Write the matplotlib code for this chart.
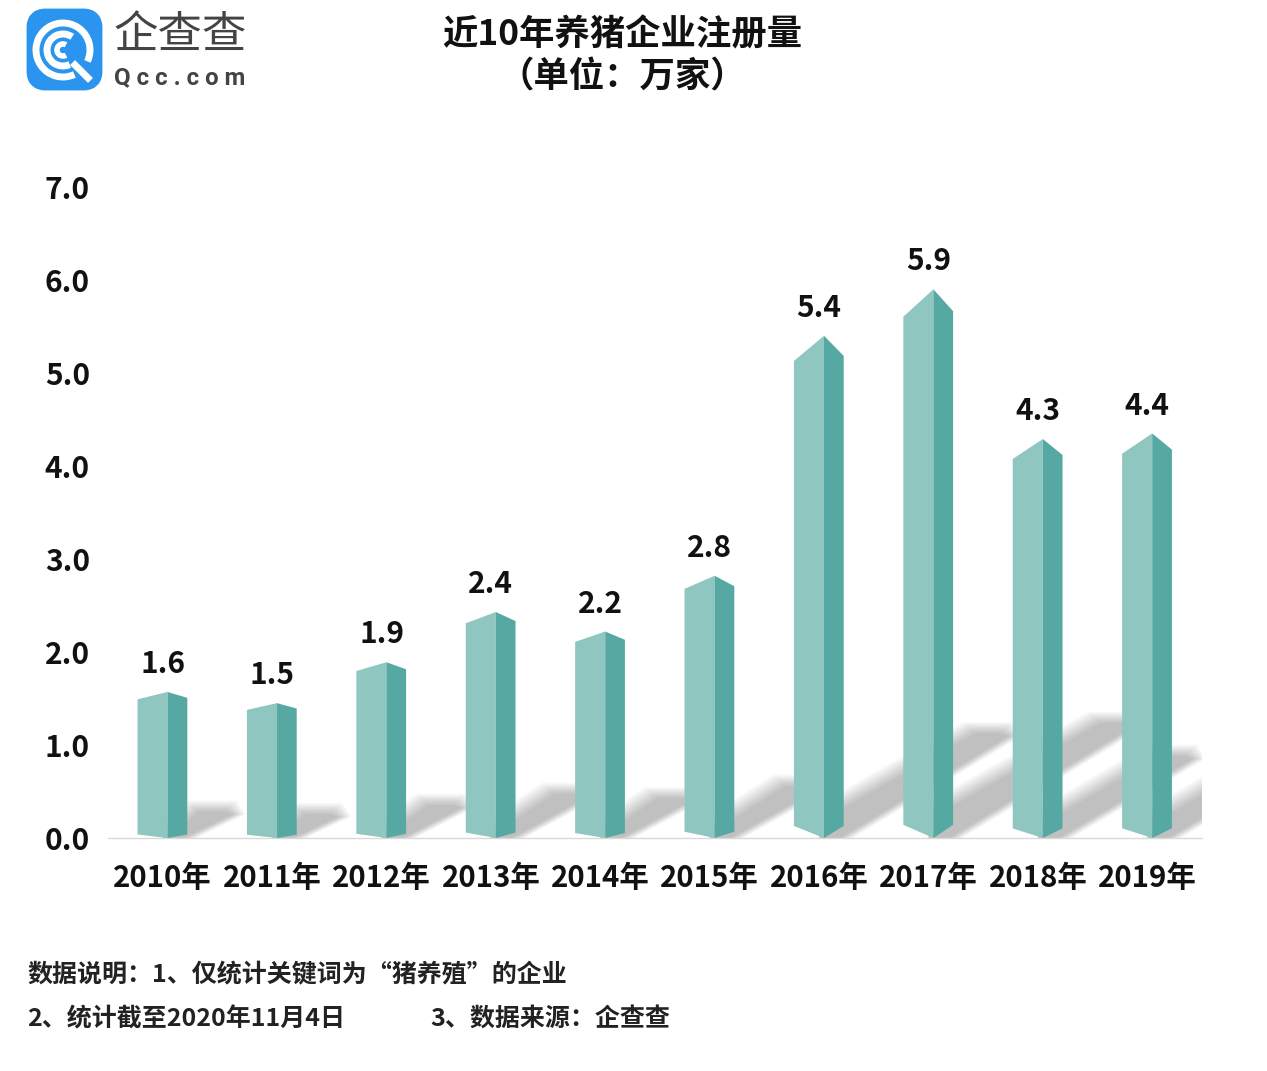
#Registered pig farming companies per year, drawn as faked 3D columns with a soft shadow behind each one.

import matplotlib.pyplot as plt
from matplotlib.patches import Arc, FancyBboxPatch

years = ['2010年','2011年','2012年','2013年','2014年','2015年','2016年','2017年','2018年','2019年']
counts = [1.6, 1.5, 1.9, 2.4, 2.2, 2.8, 5.4, 5.9, 4.3, 4.4]
#Drawn heights carry one more decimal than the printed labels
heights = [1.57, 1.45, 1.89, 2.43, 2.22, 2.82, 5.4, 5.9, 4.29, 4.35]
y_labels = ['0.0','1.0','2.0','3.0','4.0','5.0','6.0','7.0']
title_lines = ['近10年养猪企业注册量','（单位：万家）']
note_1 = '数据说明：1、仅统计关键词为“猪养殖”的企业'
note_2 = '2、统计截至2020年11月4日'
note_3 = '3、数据来源：企查查'

plt.rcParams['font.family'] = ['Noto Sans CJK SC', 'DejaVu Sans']
plt.rcParams['font.weight'] = 'bold'

plt.figure(figsize=(12.67,10.71), dpi=100)

#Main axes : 108-1202 px across, 187-838 px down
plt.axes([108/1267, 1-838/1071, 1094/1267, 651/1071])
plt.xlim(-0.5, 9.5)
plt.ylim(0, 7)

#Shadows first, stacked see-through polygons growing a little each time give the blurred edge
for i, v in enumerate(heights):
    rise = 0.22*v
    run = 0.286*v
    for k in range(-5, 6):
        d = 0.012*k    # offset of this layer, a bit over 1 px per step
        xs = [i-d, i, i+0.25+d, i+0.25+run+d, i+0.17+run+d, i+run-0.17-d]
        ys = [0.05*v+d, 0, 0, rise-0.09, rise+d, rise+d]
        plt.fill(xs, ys, color='black', alpha=0.022, linewidth=0, zorder=1)

#Front face in light teal, side face in dark teal
for i, v in enumerate(heights):
    plt.fill([i-0.23, i+0.045, i+0.045, i-0.23], [0.024*v, 0, v, 0.95*v], color='#8fc6c0', linewidth=0, zorder=3)
    plt.fill([i+0.045, i+0.225, i+0.225, i+0.045], [0, 0.024*v, 0.96*v, v], color='#56a9a2', linewidth=0, zorder=3)
    plt.text(i, v+0.30, str(counts[i]), ha='center', va='center', fontsize=21.5, color='#111111', zorder=4)

plt.xticks(range(10), years, fontsize=21.2, color='#111111')
plt.yticks(range(8), y_labels, fontsize=21.5, color='#111111', va='center_baseline')
plt.tick_params(axis='both', length=0)
plt.tick_params(axis='x', pad=18)
plt.tick_params(axis='y', pad=13)
ax = plt.gca()
for side in ['top','left','right']:
    ax.spines[side].set_visible(False)
ax.spines['bottom'].set_color('#d9d9d9')
ax.spines['bottom'].set_linewidth(1)
ax.spines['bottom'].set_zorder(2)

#Overlay in pixel coordinates for the titles, notes and logo
plt.axes([0,0,1,1], facecolor='none')
plt.xlim(0, 1267)
plt.ylim(1071, 0)
plt.axis('off')

plt.text(622, 35, title_lines[0], ha='center', va='center', fontsize=25.5, color='#111111')
plt.text(622, 77, title_lines[1], ha='center', va='center', fontsize=25.5, color='#111111')
plt.text(27, 975, note_1, ha='left', va='center', fontsize=18, color='#222222')
plt.text(27, 1019, note_2, ha='left', va='center', fontsize=18, color='#222222')
plt.text(430, 1019, note_3, ha='left', va='center', fontsize=18, color='#222222')

#Logo : blue rounded square with three white rings
ax = plt.gca()
ax.add_patch(FancyBboxPatch((37,19), 55, 61, boxstyle='round,pad=0,rounding_size=1', mutation_scale=8, facecolor='#2a94ee', edgecolor='#2a94ee', linewidth=15, joinstyle='round'))
ax.add_patch(Arc((63,50), 54, 54, theta1=65, theta2=25, color='white', linewidth=5))
ax.add_patch(Arc((63,50), 32, 32, theta1=65, theta2=305, color='white', linewidth=5))
ax.add_patch(Arc((63,50), 12, 12, theta1=60, theta2=300, color='white', linewidth=4))
plt.plot([75,88], [65,78], color='white', linewidth=5)
plt.text(180, 35, '企查查', ha='center', va='center', fontsize=32, fontweight='normal', color='#444444')
plt.text(180, 78, 'Q c c . c o m', ha='center', va='center', fontsize=17.3, family='Roboto', fontweight='bold', color='#444444')

plt.savefig('out.png', dpi=100)
